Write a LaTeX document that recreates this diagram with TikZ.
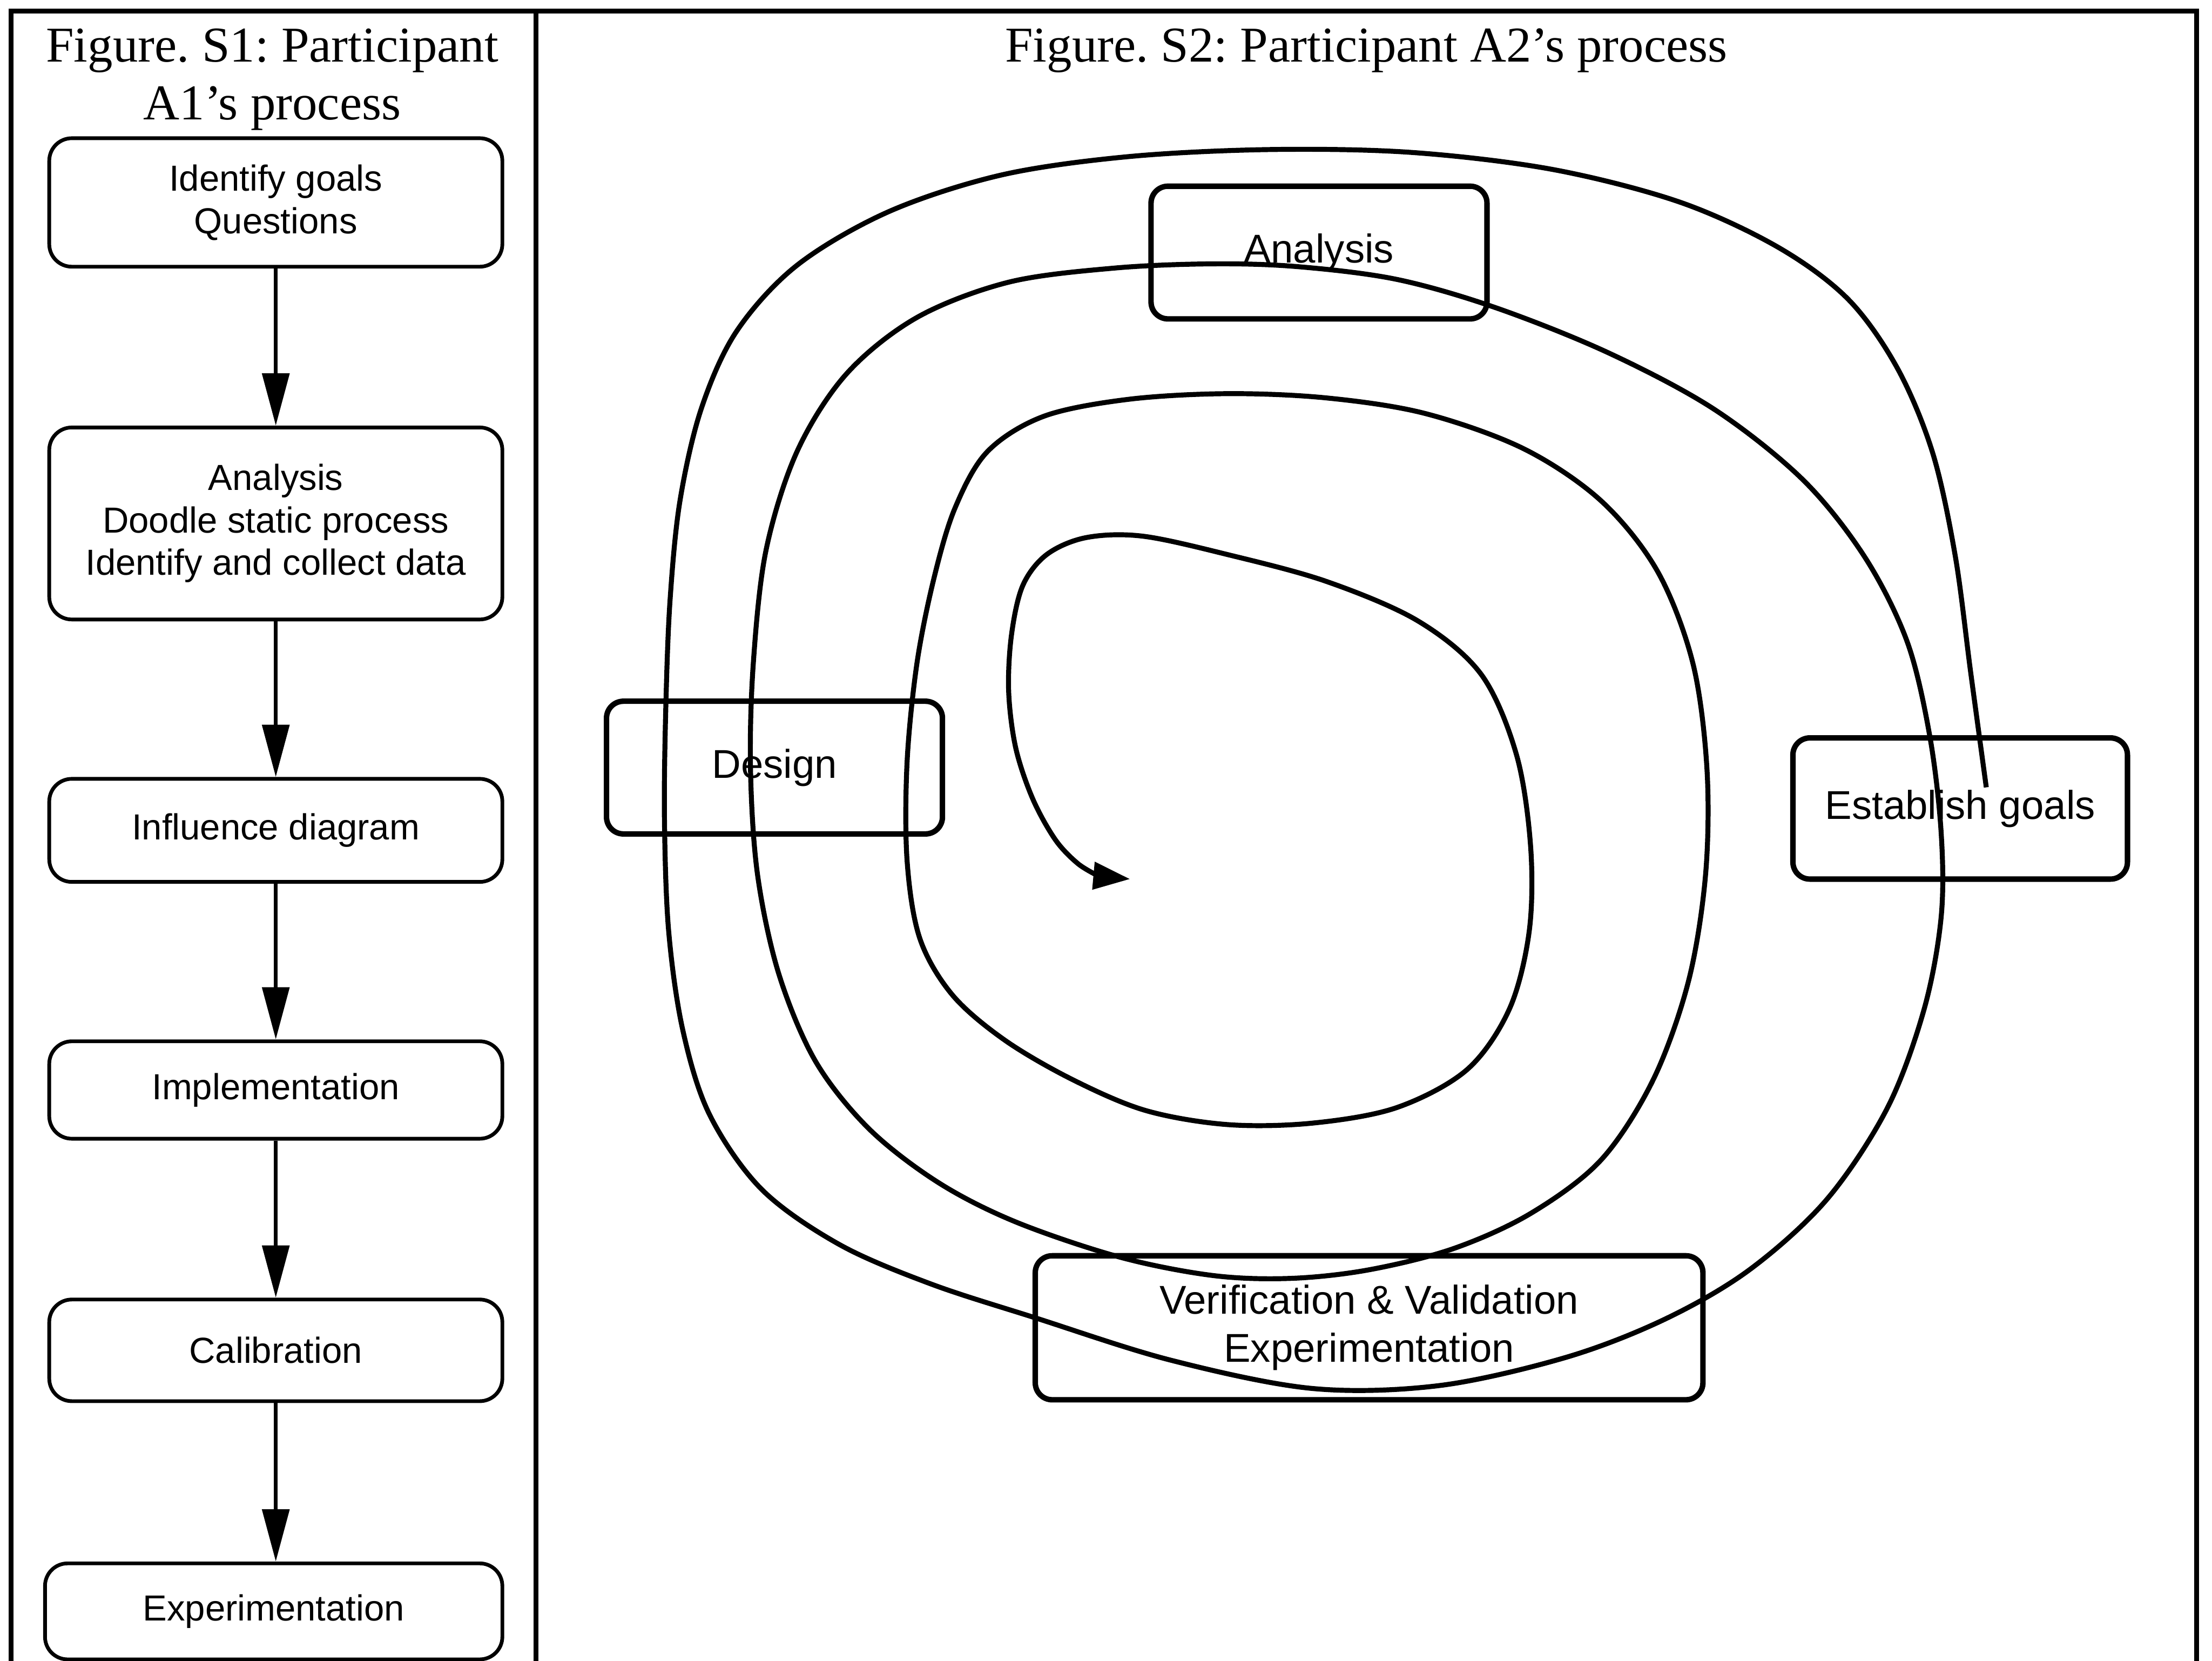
\documentclass[tikz,border=0pt]{standalone}
\usepackage{fontspec}
\setmainfont{Liberation Serif}
\newfontfamily\boxfont{Liberation Sans}
\usetikzlibrary{arrows.meta}
\frenchspacing
\begin{document}
\begin{tikzpicture}[x=0.01cm, y=-0.01cm,
  frameline/.style={line width=1pt},
  titletext/.style={font=\fontsize{10.1}{11.7}\selectfont, anchor=base, inner sep=0pt},
  lbox/.style={draw, line width=0.75pt, rounded corners=0.16cm, minimum width=3.21cm,
    align=center, inner sep=0pt, font=\boxfont\fontsize{7.3}{8.55}\selectfont},
  rbox/.style={draw, line width=1.1pt, rounded corners=0.12cm, align=center, inner sep=0pt,
    font=\boxfont\fontsize{8.1}{9.7}\selectfont},
  flow/.style={line width=0.8pt, -{Triangle[length=0.37cm,width=0.19cm]}},
  spiralpath/.style={line width=1pt, line join=round, -{Triangle[length=0.26cm,width=0.19cm]}}
]
\useasboundingbox (0,0) rectangle (1568,1177);

% outer frame and column divider
\draw[frameline] (8,1177) -- (8,8) -- (1557,8) -- (1557,1177);
\draw[frameline] (380,8) -- (380,1177);

% column titles
\node[titletext] (t1a) at (193,44) {Figure. S1: Participant};
\node[titletext] (t1b) at (193,85) {A1’s process};
\node[titletext] (t2) at (968.5,44) {Figure. S2: Participant A2’s process};

% left column: linear process
\node[lbox, minimum height=0.91cm] (b1) at (195.5,143.5) {Identify goals\\Questions};
\node[lbox, minimum height=1.36cm] (b2) at (195.5,371) {Analysis\\Doodle static process\\Identify and collect data};
\node[lbox, minimum height=0.73cm] (b3) at (195.5,588.5) {Influence diagram};
\node[lbox, minimum height=0.69cm] (b4) at (195.5,772.5) {Implementation};
\node[lbox, minimum height=0.72cm] (b5) at (195.5,957) {Calibration};
\node[lbox, minimum height=0.68cm, minimum width=3.24cm] (b6) at (194,1142) {Experimentation};

\draw[flow] (b1) -- (b2);
\draw[flow] (b2) -- (b3);
\draw[flow] (b3) -- (b4);
\draw[flow] (b4) -- (b5);
\draw[flow] (b5.south) -- (b5.south |- b6.north);

% right column: spiral process
\node[rbox, minimum width=2.38cm, minimum height=0.94cm] (ana) at (935,179) {Analysis};
\node[rbox, minimum width=2.38cm, minimum height=0.94cm] (des) at (549,544) {Design};
\node[rbox, minimum width=2.37cm, minimum height=1.00cm] (est) at (1389.5,573) {Establish goals};
\node[rbox, minimum width=4.73cm, minimum height=1.02cm] (vv) at (970.5,941) {Verification \& Validation\\Experimentation};

\coordinate (spstart) at (1408,558);
\coordinate (spend) at (801,623);
\draw[spiralpath] plot[smooth, tension=0.55] coordinates {
  (spstart) (1397,477) (1386,394) (1370,321) (1345,261) (1310,212) (1260,175)
  (1190,143) (1100,120) (1000,108) (900,106) (800,111) (710,124) (630,150)
  (565,188) (522,235) (497,290) (482,355) (475,425) (472,500) (471,580)
  (474,660) (484,730) (503,790) (540,843) (595,882) (660,910) (734,934)
  (830,964) (930,984) (1020,982) (1110,962) (1180,935) (1240,900) (1295,850)
  (1338,785) (1364,715) (1376,650) (1376,590) (1368,522) (1352,455) (1322,395)
  (1278,340) (1215,290) (1140,250) (1060,218) (990,198) (920,189) (860,187)
  (790,190) (715,200) (650,225) (600,265) (565,320) (543,390) (534,470)
  (532,545) (537,620) (552,690) (578,752) (616,800) (665,838) (720,866)
  (794,891) (860,904) (915,906) (970,900) (1030,885) (1085,860) (1135,822)
  (1172,765) (1197,695) (1209,620) (1210,545) (1200,470) (1175,405) (1135,355)
  (1080,318) (1010,293) (940,282) (870,279) (800,283) (740,295) (700,320)
  (677,360) (662,410) (650,470) (643,540) (643,610) (652,665) (675,705)
  (712,737) (760,765) (812,787) (870,797) (930,796) (990,785) (1040,758)
  (1070,715) (1084,660) (1085,600) (1075,535) (1050,478) (1005,440) (940,412)
  (870,393) (810,380) (770,381) (742,393) (725,415) (717,450) (715,490)
  (720,530) (732,566) (748,595) (764,612) (779,621)} -- (spend);
\end{tikzpicture}
\end{document}
